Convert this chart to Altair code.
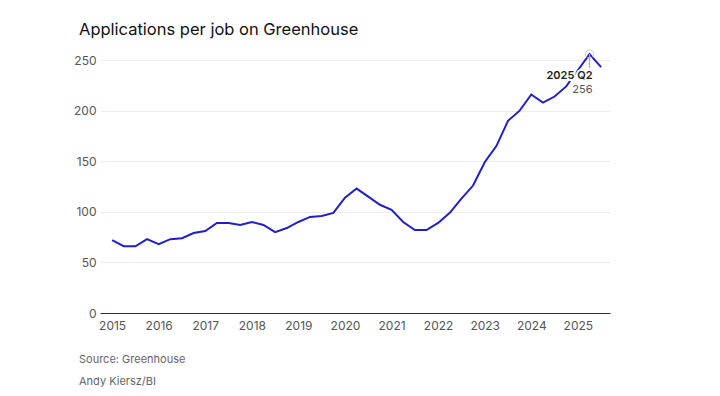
import altair as alt
import pandas as pd

# ---- data (quarterly, 2015 Q1 .. 2025 Q3) ----
years = [2015]*4 + [2016]*4 + [2017]*4 + [2018]*4 + [2019]*4 + [2020]*4 + \
        [2021]*4 + [2022]*4 + [2023]*4 + [2024]*4 + [2025]*3
quarters = [1, 2, 3, 4] * 10 + [1, 2, 3]
values = [72, 66, 66, 73,
          68, 73, 74, 79,
          81, 89, 89, 87,
          90, 87, 80, 84,
          90, 95, 96, 99,
          114, 123, 115, 107,
          102, 90, 82, 82,
          89, 99, 113, 126,
          149, 165, 190, 200,
          216, 208, 214, 224,
          240, 256, 243]

x_ticks = list(range(2015, 2026))
y_ticks = [0, 50, 100, 150, 200, 250]

title_text = "Applications per job on Greenhouse"
source_text = "Source: Greenhouse"
credit_text = "Andy Kiersz/BI"

highlight_label = "2025 Q2"

df = pd.DataFrame({
    "t": [y + (q - 1) / 4 for y, q in zip(years, quarters)],
    "v": values,
    "label": [f"{y} Q{q}" for y, q in zip(years, quarters)],
})
hl = df[df["label"] == highlight_label].copy()
hl["v2"] = hl["v"] - 14
hl["vtxt"] = hl["v"].astype(str)

FONT = "Inter"
LINE = "#1f1fd0"

x = alt.X("t:Q",
          scale=alt.Scale(domain=[2014.74, 2025.69], nice=False, zero=False),
          axis=alt.Axis(values=x_ticks, format="d", title=None, grid=False,
                        domain=True, domainColor="#333333", domainWidth=1,
                        ticks=False, labelPadding=7, labelFontSize=12,
                        labelColor="#555555", labelFont=FONT))
y = alt.Y("v:Q",
          scale=alt.Scale(domain=[0, 260], nice=False),
          axis=alt.Axis(values=y_ticks, title=None, domain=False, ticks=False,
                        grid=True, gridColor="#ececec", labelPadding=4,
                        labelFontSize=12, labelColor="#555555", labelFont=FONT))

base = alt.Chart(df)
line = base.mark_line(color=LINE, strokeWidth=2).encode(x=x, y=y)

hb = alt.Chart(hl)
rule = hb.mark_rule(color="#aaaaaa", strokeWidth=1).encode(x="t:Q", y="v:Q", y2="v2:Q")
circ = hb.mark_point(shape="circle", size=70, filled=False, color="#bbbbbb",
                     strokeWidth=1).encode(x="t:Q", y="v:Q")
halo1 = hb.mark_text(align="right", baseline="middle", dx=3, dy=22, font=FONT,
                     fontSize=11, fontWeight=600, color="white", stroke="white",
                     strokeWidth=4).encode(x="t:Q", y="v:Q", text="label:N")
halo2 = hb.mark_text(align="right", baseline="middle", dx=3, dy=36, font=FONT,
                     fontSize=11, color="white", stroke="white",
                     strokeWidth=4).encode(x="t:Q", y="v:Q", text="vtxt:N")
lab1 = hb.mark_text(align="right", baseline="middle", dx=3, dy=22, font=FONT,
                    fontSize=11, fontWeight=600, color="#222222").encode(
    x="t:Q", y="v:Q", text="label:N")
lab2 = hb.mark_text(align="right", baseline="middle", dx=3, dy=36, font=FONT,
                    fontSize=11, color="#555555").encode(
    x="t:Q", y="v:Q", text="vtxt:N")

def free_text(s, xv, yv, size, color, weight="normal"):
    return alt.Chart(pd.DataFrame({"s": [s]})).mark_text(
        align="left", baseline="middle", font=FONT, fontSize=size,
        color=color, fontWeight=weight).encode(
        x=alt.value(xv), y=alt.value(yv), text="s:N")

title = free_text(title_text, -21, -20, 16.5, "#111111")
src = free_text(source_text, -21, 310, 11, "#666666")
cred = free_text(credit_text, -21, 332, 11, "#666666")

chart = alt.layer(line, rule, circ, halo1, halo2, lab1, lab2,
                  title, src, cred).properties(
    width=510, height=263,
    autosize=alt.AutoSizeParams(type="none"),
    padding={"left": 92, "top": 42, "right": 94, "bottom": 75},
    background="white",
).configure_view(stroke=None)

chart.save("out.html", embed_options={"renderer": "svg", "actions": False})
